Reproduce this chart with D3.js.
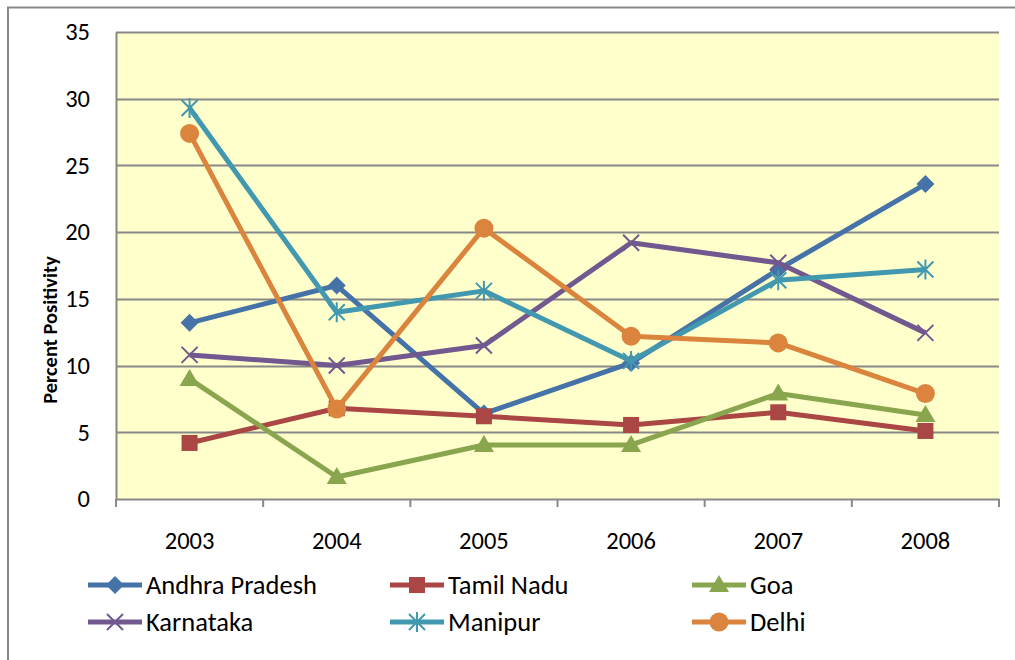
<!DOCTYPE html>
<html>
<head>
<meta charset="utf-8">
<script src="https://cdn.jsdelivr.net/npm/d3@7"></script>
<style>
	body { margin: 0; background: #fff; }
	#app { width: 1015px; height: 660px; }
	text { font-family: Carlito, Lato, "Liberation Sans", sans-serif; }
</style>
</head>
<body>
<div id="app"></div>
<script>
// chart data
const years = ['2003', '2004', '2005', '2006', '2007', '2008'];
const yTicks = [0, 5, 10, 15, 20, 25, 30, 35];

const andhraPradesh = [13.2, 16.0, 6.4, 10.2, 17.2, 23.6];
const tamilNadu = [4.2, 6.8, 6.2, 5.55, 6.5, 5.1];
const goa = [9.0, 1.65, 4.05, 4.05, 7.9, 6.3];
const karnataka = [10.8, 10.0, 11.5, 19.2, 17.7, 12.45];
const manipur = [29.3, 14.0, 15.6, 10.35, 16.4, 17.2];
const delhi = [27.4, 6.75, 20.3, 12.2, 11.7, 7.9];

const seriesNames = ['Andhra Pradesh', 'Tamil Nadu', 'Goa', 'Karnataka', 'Manipur', 'Delhi'];

let series = [
	{ name: seriesNames[0], values: andhraPradesh, color: '#4572A7', marker: 'diamond' },
	{ name: seriesNames[1], values: tamilNadu, color: '#AA4643', marker: 'square' },
	{ name: seriesNames[2], values: goa, color: '#89A54E', marker: 'triangle' },
	{ name: seriesNames[3], values: karnataka, color: '#71588F', marker: 'x' },
	{ name: seriesNames[4], values: manipur, color: '#4198AF', marker: 'star' },
	{ name: seriesNames[5], values: delhi, color: '#DB843D', marker: 'circle' }
];

let margin = { top: 32, right: 16, bottom: 161, left: 116 },
	outerWidth = 1015,
	outerHeight = 660,
	width = outerWidth - margin.left - margin.right,
	height = outerHeight - margin.top - margin.bottom;

let svg = d3.select('#app').append('svg')
	.attr('width', outerWidth)
	.attr('height', outerHeight);

// outer chart frame
svg.append('rect')
	.attr('x', 8).attr('y', 7.5)
	.attr('width', 1020).attr('height', 670)
	.attr('fill', 'none')
	.attr('stroke', '#888')
	.attr('stroke-width', 2);

let graph = svg.append('g')
	.attr('transform', `translate(${ margin.left }, ${ margin.top })`);

let x = d3.scaleBand()
	.domain(years)
	.range([0, width]);

let y = d3.scaleLinear()
	.domain([0, 35])
	.range([height, 0]);

graph.append('rect')
	.attr('width', width)
	.attr('height', height)
	.attr('fill', '#FFFFCC');

// gridlines
graph.append('g')
	.selectAll('line')
	.data(yTicks.filter(d => d > 0))
	.enter().append('line')
		.attr('x1', 0).attr('x2', width)
		.attr('y1', d => Math.round(y(d)) + 0.5)
		.attr('y2', d => Math.round(y(d)) + 0.5)
		.attr('stroke', '#888')
		.attr('stroke-width', 2);

// y axis
let yAxis = graph.append('g')
	.call(d3.axisLeft(y).tickValues(yTicks).tickSize(0).tickPadding(26));
yAxis.select('.domain').attr('stroke', '#888').attr('stroke-width', 2);
yAxis.selectAll('text')
	.attr('font-size', '24.5px')
	.attr('fill', '#000');

// x axis with ticks at band boundaries
let xAxis = graph.append('g')
	.attr('transform', `translate(0, ${ height })`)
	.call(d3.axisBottom(x).tickSize(0));
xAxis.select('.domain').attr('stroke', '#888').attr('stroke-width', 2);
xAxis.selectAll('text')
	.attr('y', 50)
	.attr('dy', 0)
	.attr('font-size', '24.5px')
	.attr('fill', '#000');

xAxis.append('g')
	.selectAll('line')
	.data(d3.range(years.length + 1))
	.enter().append('line')
		.attr('x1', d => d * x.step())
		.attr('x2', d => d * x.step())
		.attr('y1', 0).attr('y2', 8)
		.attr('stroke', '#888')
		.attr('stroke-width', 2);

// y axis title
svg.append('text')
	.attr('transform', 'translate(57, 330) rotate(-90)')
	.attr('text-anchor', 'middle')
	.attr('font-size', '20.5px')
	.attr('font-weight', 'bold')
	.text('Percent Positivity');

function drawMarker (sel, type, color) {
	if (type === 'diamond') {
		sel.append('path').attr('d', 'M0,-9L9,0L0,9L-9,0Z').attr('fill', color);
	} else if (type === 'square') {
		sel.append('rect').attr('x', -8).attr('y', -8).attr('width', 16).attr('height', 16).attr('fill', color);
	} else if (type === 'triangle') {
		sel.append('path').attr('d', 'M0,-10L10,7L-10,7Z').attr('fill', color);
	} else if (type === 'circle') {
		sel.append('circle').attr('r', 9.5).attr('fill', color);
	} else if (type === 'x') {
		sel.append('path').attr('d', 'M-8,-8L8,8M-8,8L8,-8')
			.attr('stroke', color).attr('stroke-width', 2).attr('fill', 'none');
	} else if (type === 'star') {
		sel.append('path').attr('d', 'M-8,-8L8,8M-8,8L8,-8M0,-10L0,10')
			.attr('stroke', color).attr('stroke-width', 2).attr('fill', 'none');
	}
}

let line = d3.line()
	.x((d, i) => x(years[i]) + x.bandwidth() / 2)
	.y(d => y(d));

let lines = graph.append('g');
series.forEach(s => {
	let g = lines.append('g');
	g.append('path')
		.attr('d', line(s.values))
		.attr('fill', 'none')
		.attr('stroke', s.color)
		.attr('stroke-width', 5)
		.attr('stroke-linejoin', 'round');
	g.selectAll('.marker')
		.data(s.values)
		.enter().append('g')
			.attr('class', 'marker')
			.attr('transform', (d, i) => `translate(${ x(years[i]) + x.bandwidth() / 2 }, ${ y(d) })`)
			.each(function () { drawMarker(d3.select(this), s.marker, s.color); });
});

// legend
let legendCols = [88, 390, 692],
	legendRows = [585, 622];

let legend = svg.append('g')
	.selectAll('g')
	.data(series)
	.enter().append('g')
		.attr('transform', (d, i) => `translate(${ legendCols[i % 3] }, ${ legendRows[Math.floor(i / 3)] })`);

legend.append('line')
	.attr('x1', 0).attr('x2', 54)
	.attr('stroke', d => d.color)
	.attr('stroke-width', 5);

legend.each(function (d) {
	let m = d3.select(this).append('g').attr('transform', 'translate(27, 0)');
	drawMarker(m, d.marker, d.color);
});

legend.append('text')
	.attr('x', 58)
	.attr('y', 9)
	.attr('font-size', '26.5px')
	.text(d => d.name);
</script>
</body>
</html>
